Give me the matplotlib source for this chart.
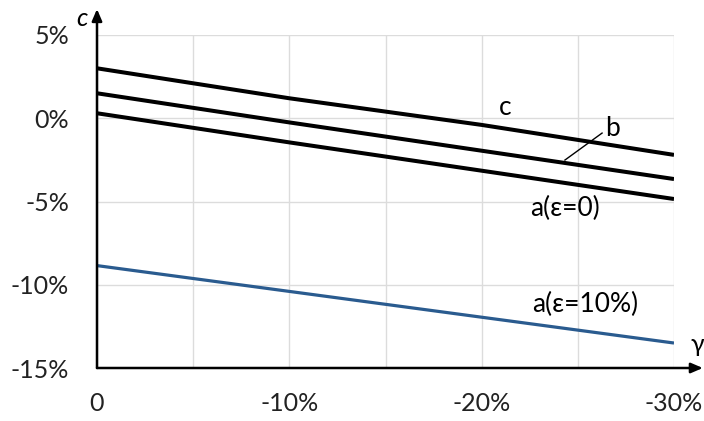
import matplotlib
matplotlib.use("Agg")
import matplotlib.pyplot as plt
import numpy as np

plt.rcParams['font.family'] = ['Lato', 'DejaVu Sans']

gamma = [0, 10, 20, 30]  # magnitude of negative gamma in %
c_vals = [3.0, 1.2, -0.4, -2.2]
b_vals = [1.5, -0.25, -1.95, -3.65]
a0_vals = [0.3, -1.45, -3.15, -4.85]
a10_vals = [-8.85, -10.4, -11.95, -13.5]

xticks = [0, 10, 20, 30]
xticklabels = ['0', '-10%', '-20%', '-30%']
yticks = [-15, -10, -5, 0, 5]
yticklabels = ['-15%', '-10%', '-5%', '0%', '5%']

fig = plt.figure(figsize=(7.04, 4.21), dpi=100)
ax = fig.add_axes([97/704, 53/421, 577/704, 333/421])

ax.plot(gamma, c_vals, color='black', lw=2.9, solid_capstyle='butt')
ax.plot(gamma, b_vals, color='black', lw=2.9, solid_capstyle='butt')
ax.plot(gamma, a0_vals, color='black', lw=2.9, solid_capstyle='butt')
ax.plot(gamma, a10_vals, color='#2a5b8f', lw=2.3, solid_capstyle='butt')

ax.set_xlim(0, 30)
ax.set_ylim(-15, 5)
ax.set_xticks(xticks)
ax.set_xticklabels(xticklabels)
ax.set_xticks(np.arange(0, 31, 5), minor=True)
ax.set_yticks(yticks)
ax.set_yticklabels(yticklabels)
ax.grid(True, which='both', color='#dcdcdc', lw=1)
ax.set_axisbelow(True)
ax.tick_params(which='both', length=0, labelsize=18, colors='#222222')
ax.tick_params(axis='x', pad=17)
ax.tick_params(axis='y', pad=20)
for s in ax.spines.values():
    s.set_visible(False)

# axes with arrows
ax.annotate('', xy=(0, 1.078), xytext=(0, 0), xycoords='axes fraction',
            arrowprops=dict(arrowstyle='-|>,head_length=0.7,head_width=0.3', color='black', lw=1.8,
                            shrinkA=0, shrinkB=0), annotation_clip=False)
ax.annotate('', xy=(1.05, 0), xytext=(0, 0), xycoords='axes fraction',
            arrowprops=dict(arrowstyle='-|>,head_length=0.7,head_width=0.3', color='black', lw=1.8,
                            shrinkA=0, shrinkB=0), annotation_clip=False)
fig.text(82/704, 1 - 18/421, 'c', fontsize=18, style='italic', ha='center', va='center')
fig.text(697/704, 1 - 345/421, 'γ', fontsize=18, ha='center', va='center')

# line labels
ax.text(21.2, 0.62, 'c', fontsize=19, ha='center', va='center')
ax.text(26.8, -0.59, 'b', fontsize=19, ha='center', va='center')
ax.plot([24.33, 26.26], [-2.51, -0.89], color='black', lw=1)
ax.text(24.33, -5.39, 'a(ε=0)', fontsize=19, ha='center', va='center')
ax.text(25.37, -11.2, 'a(ε=10%)', fontsize=19, ha='center', va='center')

fig.savefig('out.png', dpi=100)
